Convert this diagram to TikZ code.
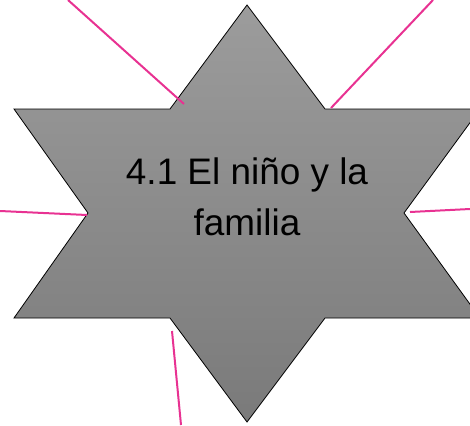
\documentclass[tikz,border=0pt]{standalone}
\usepackage{fontspec}
\setmainfont{Liberation Sans}
\definecolor{spokepink}{RGB}{232,50,146}
\definecolor{startop}{RGB}{156,156,156}
\definecolor{starbottom}{RGB}{122,122,122}
\begin{document}
\begin{tikzpicture}[x=1pt,y=-1pt,
    spoke/.style={spokepink, line width=2pt},
    starshape/.style={draw=black, line width=0.8pt, top color=startop, bottom color=starbottom}]
  \useasboundingbox (0,0) rectangle (470,425);
  \clip (0,0) rectangle (470,425);

  % Draw star
  \draw[starshape] (247,5) -- (325,109) -- (480,109) -- (404,213) -- (480,318)
    -- (325,318) -- (247,422) -- (170,318) -- (14,318) -- (88,213)
    -- (14,109) -- (170,109) -- cycle;

  % Draw title
  \node[font=\fontsize{36.9}{51}\selectfont, align=center, inner sep=0pt] (title) at (247,197) {4.1 El niño y la\\familia};

  % Draw spoke ends
  \coordinate (nwout) at (68,0);
  \coordinate (nwin) at (184,104);
  \coordinate (neout) at (433,0);
  \coordinate (nein) at (331,108);
  \coordinate (wout) at (0,211);
  \coordinate (win) at (87,215);
  \coordinate (eout) at (470,209);
  \coordinate (ein) at (410,212);
  \coordinate (sout) at (181,425);
  \coordinate (sin) at (172,331);

  % Draw spokes
  \draw[spoke] (nwout) -- (nwin);
  \draw[spoke] (neout) -- (nein);
  \draw[spoke] (wout) -- (win);
  \draw[spoke] (eout) -- (ein);
  \draw[spoke] (sout) -- (sin);
\end{tikzpicture}
\end{document}
